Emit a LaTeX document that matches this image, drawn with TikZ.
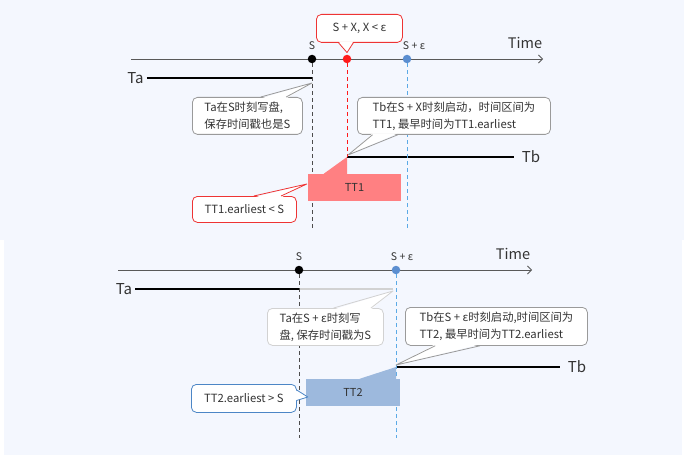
\documentclass[tikz,border=0pt]{standalone}
\usepackage{fontspec}
\setmainfont{Noto Sans CJK SC}
\usetikzlibrary{arrows.meta,calc}

\definecolor{bgblue}{HTML}{F4F7FE}
\definecolor{calred}{HTML}{EE3434}
\definecolor{dotred}{HTML}{FF1A1A}
\definecolor{ttred}{HTML}{FF8082}
\definecolor{dotblue}{HTML}{5B8ED0}
\definecolor{guideblue}{HTML}{5BAAE6}
\definecolor{ttblue}{HTML}{9DB9DD}
\definecolor{calblue}{HTML}{4C86C6}
\definecolor{calgray}{HTML}{9A9A9A}
\definecolor{callight}{HTML}{D2D2D2}
\definecolor{inkgray}{HTML}{333333}

% pointer of a callout: colour, two base points, tip, inward shift
\newcommand{\callptr}[5]{%
	\fill[white] ($#2+#5$) -- #4 -- ($#3+#5$) -- cycle;
	\draw[#1, line width=0.8pt, line join=round] #2 -- #4 -- #3;
}

\begin{document}
\begin{tikzpicture}[x=1pt, y=-1pt,
		axis/.style={draw=black!65, line width=0.8pt, -{Straight Barb[length=4pt,width=8pt]}},
		txline/.style={line width=2.9pt},
		guide/.style={dash pattern=on 4pt off 3pt, line width=0.7pt},
		dot/.style={circle, fill=#1, inner sep=0pt, minimum size=8.5pt},
		ticklabel/.style={font=\fontsize{10.5}{12}\selectfont, text=inkgray},
		tlabel/.style={font=\fontsize{15}{15}\selectfont, text=inkgray, inner sep=0pt},
		timelabel/.style={font=\fontsize{14.5}{14}\selectfont, text=inkgray},
		callout/.style={draw=#1, fill=white, rounded corners=5pt, line width=0.8pt,
			align=left, anchor=north west, inner sep=0pt, text=inkgray,
			font=\fontsize{11.3}{17}\selectfont},
		ttbox/.style={fill=#1, inner sep=0pt, font=\fontsize{11}{12}\selectfont, text=inkgray}]
	
	\fill[white] (0,240) rectangle (684,457);
	\fill[bgblue] (0,0) rectangle (684,240);
	\fill[bgblue] (4,240) rectangle (682,455);
	
	%%% upper case: Tb starts at S + X
	\coordinate (axAs) at (131,59);
	\coordinate (axAe) at (543,59);
	\draw[axis] (axAs) -- (axAe);
	\node[timelabel] (timeA) at (525,43) {Time};
	
	\node[dot=black] (sA) at (312,59) {};
	\node[dot=dotred] (xA) at (347,59) {};
	\node[dot=dotblue] (eA) at (407,59) {};
	\node[ticklabel] (sAlab) at (312,46) {S};
	\node[ticklabel] (eAlab) at (414,46) {S + ε};
	
	\node[tlabel] (taA) at (135.5,78) {Ta};
	\coordinate (taAend) at (312,78);
	\draw[txline] ([xshift=3pt]taA.east) -- (taAend);
	
	\coordinate (tbAstart) at (347,157);
	\node[tlabel] (tbA) at (531,157) {Tb};
	\draw[txline] (tbAstart) -- ([xshift=-8pt]tbA.west);
	
	\coordinate (sAbot) at (312,228);
	\coordinate (eAbot) at (407,228);
	\draw[guide, black!70] (sA.south) -- (sAbot);
	\draw[guide, dotred] (xA.south) -- (tbAstart);
	\draw[guide, guideblue] (eA.south) -- (eAbot);
	
	\node[ttbox=ttred, minimum width=93pt, minimum height=27pt] (tt1) at (354.5,187.5) {TT1};
	\fill[ttred] (tbAstart) -- (tt1.north -| tbAstart) -- ($(tt1.north west)!0.17!(tt1.north east)$) -- cycle;
	
	\node[callout=calred, minimum width=86pt, minimum height=28pt, align=center] (cxA) at (316,14) {S + X, X < ε};
	\callptr{calred}{($(cxA.south west)!0.26!(cxA.south east)$)}{($(cxA.south west)!0.43!(cxA.south east)$)}{([yshift=2pt]xA.north)}{(0,-1.5)}
	
	\node[callout=calgray, minimum width=110pt, minimum height=37pt] (ctaA) at (192,97) {Ta在S时刻写盘,\\保存时间戳也是S};
	\callptr{calgray}{($(ctaA.north west)!0.62!(ctaA.north east)$)}{($(ctaA.north west)!0.85!(ctaA.north east)$)}{([yshift=-5pt]taAend)}{(0,1.5)}
	
	\node[callout=calgray, minimum width=193pt, minimum height=37pt] (ctbA) at (357,97) {Tb在S + X时刻启动，时间区间为\\TT1, 最早时间为TT1.earliest};
	\callptr{calgray}{($(ctbA.south west)!0.08!(ctbA.south east)$)}{($(ctbA.south west)!0.21!(ctbA.south east)$)}{([xshift=1pt,yshift=2pt]tbAstart)}{(0,-1.5)}
	
	\node[callout=calred, minimum width=104pt, minimum height=26pt, align=center] (ctt1) at (192,196) {TT1.earliest < S};
	\callptr{calred}{($(ctt1.north west)!0.59!(ctt1.north east)$)}{($(ctt1.north west)!0.85!(ctt1.north east)$)}{([xshift=-1pt,yshift=3.5pt]tt1.west)}{(0,1.5)}
	
	%%% lower case: Tb starts at S + epsilon
	\coordinate (axBs) at (118,270);
	\coordinate (axBe) at (532,270);
	\draw[axis] (axBs) -- (axBe);
	\node[timelabel] (timeB) at (513,254) {Time};
	
	\node[dot=black] (sB) at (299,270) {};
	\node[dot=dotblue] (eB) at (396,270) {};
	\node[ticklabel] (sBlab) at (299,257) {S};
	\node[ticklabel] (eBlab) at (402,257) {S + ε};
	
	\node[tlabel] (taB) at (124,289) {Ta};
	\coordinate (taBmid) at (299,289);
	\coordinate (taBend) at (393,289);
	\draw[txline] ([xshift=3pt]taB.east) -- (taBmid);
	\draw[txline, callight] (taBmid) -- (taBend);
	
	\coordinate (tbBstart) at (396,367);
	\node[tlabel] (tbB) at (577,367) {Tb};
	\draw[txline] (tbBstart) -- ([xshift=-8pt]tbB.west);
	
	\coordinate (sBbot) at (299,438);
	\coordinate (eBbot) at (396,438);
	\draw[guide, black!70] (sB.south) -- (sBbot);
	\draw[guide, guideblue] (eB.south) -- (eBbot);
	
	\node[ttbox=ttblue, minimum width=94pt, minimum height=27pt] (tt2) at (353,392.5) {TT2};
	\fill[ttblue] (tbBstart) -- (tt2.north -| tbBstart) -- ($(tt2.north west)!0.57!(tt2.north east)$) -- cycle;
	
	\node[callout=callight, minimum width=116pt, minimum height=37pt] (ctaB) at (267,308) {Ta在S + ε时刻写\\盘, 保存时间戳为S};
	\callptr{callight}{($(ctaB.north west)!0.57!(ctaB.north east)$)}{($(ctaB.north west)!0.89!(ctaB.north east)$)}{([yshift=-2pt]taBend)}{(0,1.5)}
	
	\node[callout=calgray, minimum width=182pt, minimum height=38pt] (ctbB) at (405,307) {Tb在S + ε时刻启动,时间区间为\\TT2, 最早时间为TT2.earliest};
	\callptr{calgray}{($(ctbB.south west)!0.165!(ctbB.south east)$)}{($(ctbB.south west)!0.41!(ctbB.south east)$)}{([yshift=2pt]tbBstart)}{(0,-1.5)}
	
	\node[callout=calblue, minimum width=105pt, minimum height=28pt, align=center] (ctt2) at (191,384) {TT2.earliest > S};
	\callptr{calblue}{($(ctt2.north east)!0.21!(ctt2.south east)$)}{($(ctt2.north east)!0.57!(ctt2.south east)$)}{([xshift=2pt,yshift=-4.5pt]tt2.west)}{(-1.5,0)}
\end{tikzpicture}
\end{document}
